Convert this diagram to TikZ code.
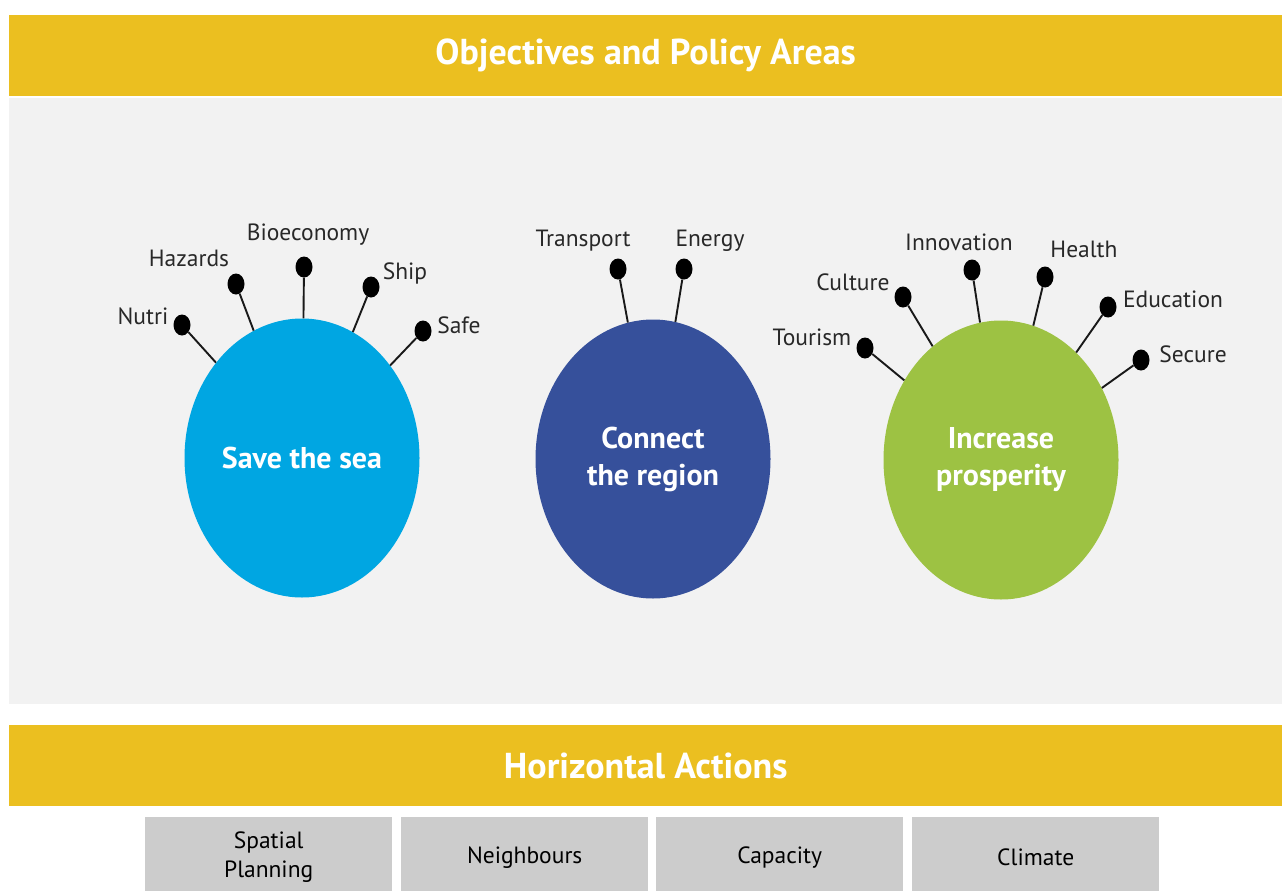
\documentclass[tikz,border=0pt]{standalone}
\usepackage{fontspec}
\setmainfont{PT Sans}
\usetikzlibrary{shapes.geometric}

\definecolor{barYellow}{RGB}{235,191,32}
\definecolor{panelGray}{RGB}{242,242,242}
\definecolor{seaBlue}{RGB}{0,166,226}
\definecolor{regionNavy}{RGB}{54,80,155}
\definecolor{prosperGreen}{RGB}{157,194,67}
\definecolor{actionGray}{RGB}{204,204,204}
\definecolor{labelInk}{RGB}{40,40,40}

\tikzset{
  banner/.style={fill=barYellow, text=white, anchor=north west, inner sep=0pt,
    minimum width=1273pt, minimum height=81pt,
    font=\fontsize{36}{42}\selectfont\bfseries},
  goal/.style={ellipse, inner sep=0pt, minimum width=235pt, minimum height=279pt,
    text=white, align=center, font=\fontsize{30}{37}\selectfont\bfseries},
  pin/.style={ellipse, fill=black, inner sep=0pt, minimum width=17pt, minimum height=21pt},
  stem/.style={draw=black!90, line width=1.9pt},
  lbl/.style={text=labelInk, inner sep=0pt, font=\fontsize{23.5}{27}\selectfont},
  action/.style={fill=actionGray, anchor=north west, inner sep=0pt, align=center,
    minimum width=247pt, minimum height=80pt, font=\fontsize{23.5}{29}\selectfont}
}

\begin{document}
\begin{tikzpicture}[x=1pt,y=-1pt]
\useasboundingbox (0,0) rectangle (1282,891);
\fill[white] (0,0) rectangle (1282,891);

% header and content panel
\node[banner] (objectives) at (9,15) {Objectives and Policy Areas};
\fill[panelGray] (9,98) rectangle (1282,704);

% the three objectives
\node[goal, fill=seaBlue] (sea) at (302,458) {Save the sea};
\node[goal, fill=regionNavy] (region) at (653,459) {Connect\\the region};
\node[goal, fill=prosperGreen] (prosper) at (1001,460) {Increase\\prosperity};

% policy areas of "Save the sea"
\node[pin] (nutri) at (182,325) {};
\node[pin] (hazards) at (236,284) {};
\node[pin] (bioeco) at (304,267) {};
\node[pin] (ship) at (371,287) {};
\node[pin] (safe) at (423,331) {};
\node[lbl] (nutriL) at (143,316) {Nutri};
\node[lbl] (hazardsL) at (189,258) {Hazards};
\node[lbl] (bioecoL) at (308,235) {Bioeconomy};
\node[lbl] (shipL) at (405,273) {Ship};
\node[lbl] (safeL) at (459,325) {Safe};
\foreach \p in {nutri,hazards,bioeco,ship,safe} \draw[stem] (\p) -- (sea);

% policy areas of "Connect the region"
\node[pin] (transport) at (618,269) {};
\node[pin] (energy) at (684,269) {};
\node[lbl] (transportL) at (583,241) {Transport};
\node[lbl] (energyL) at (710,241) {Energy};
\foreach \p in {transport,energy} \draw[stem] (\p) -- (region);

% policy areas of "Increase prosperity"
\node[pin] (tourism) at (865,348) {};
\node[pin] (culture) at (903,297) {};
\node[pin] (innovation) at (972,270) {};
\node[pin] (health) at (1045,277) {};
\node[pin] (education) at (1108,307) {};
\node[pin] (secure) at (1141,360) {};
\node[lbl] (tourismL) at (812,337) {Tourism};
\node[lbl] (cultureL) at (853,282) {Culture};
\node[lbl] (innovationL) at (959,242) {Innovation};
\node[lbl] (healthL) at (1084,249) {Health};
\node[lbl] (educationL) at (1173,299) {Education};
\node[lbl] (secureL) at (1193,354) {Secure};
\foreach \p in {tourism,culture,innovation,health,education,secure} \draw[stem] (\p) -- (prosper);

% horizontal actions
\node[banner] (horizontal) at (9,725) {Horizontal Actions};
\node[action] (spatial) at (145,817) {Spatial\\Planning};
\node[action] (neighbours) at (401,817) {Neighbours};
\node[action] (capacity) at (656,817) {Capacity};
\node[action] (climate) at (912,817) {Climate};
\end{tikzpicture}
\end{document}
